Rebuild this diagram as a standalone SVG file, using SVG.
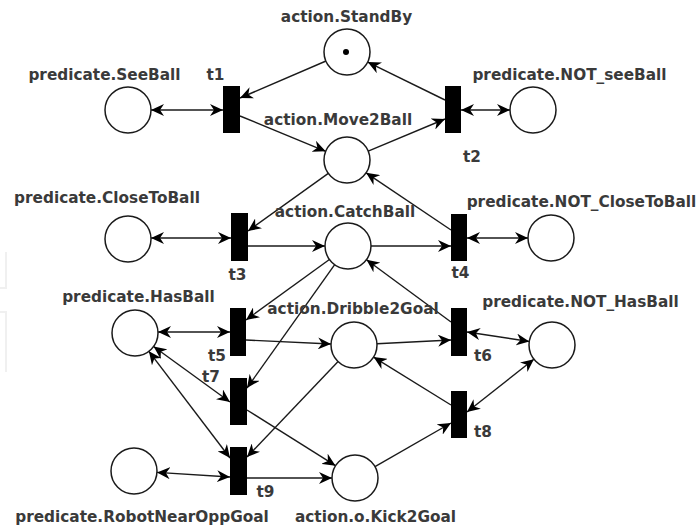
<svg xmlns="http://www.w3.org/2000/svg" width="698" height="526" viewBox="0 0 698 526">
  <style>
    .place { fill: #ffffff; stroke: #1a1a1a; stroke-width: 1.5; }
    .trans { fill: #000000; }
    .arc { fill: none; stroke: #1a1a1a; stroke-width: 1.4; marker-end: url(#head); }
    .arc.both { marker-start: url(#head); }
    .lbl { font-family: "DejaVu Sans", "Liberation Sans", sans-serif; font-weight: bold; font-size: 15.3px; fill: #3a3a3a; text-anchor: middle; }
    .edge { fill: none; stroke: #f0f0f0; stroke-width: 2; }
  </style>
  <defs>
    <marker id="head" viewBox="0 0 13 12" markerWidth="13" markerHeight="12" refX="13" refY="6" orient="auto-start-reverse" markerUnits="userSpaceOnUse">
      <path d="M0,0 L13,6 L0,12 L4,6 z" fill="#000000"/>
    </marker>
  </defs>

  <rect width="698" height="526" fill="#ffffff"/>
  <!-- faint frame remnants along the left border -->
  <path class="edge" d="M0,288 H6 V252"/>
  <path class="edge" d="M0,312 H6 V372"/>

  <!-- connectors -->
  <g id="arcs">
    <line class="arc both" x1="151" y1="110" x2="223" y2="110"/>
    <line class="arc" x1="326" y1="61" x2="240" y2="98"/>
    <line class="arc" x1="240" y1="116" x2="325.7" y2="151.3"/>
    <line class="arc" x1="368.2" y1="151.1" x2="445" y2="119"/>
    <line class="arc" x1="445" y1="100" x2="367.7" y2="62.1"/>
    <line class="arc both" x1="461" y1="110" x2="510" y2="110"/>
    <line class="arc" x1="328.3" y1="173.4" x2="248" y2="231"/>
    <line class="arc both" x1="151" y1="238" x2="231" y2="238"/>
    <line class="arc" x1="248" y1="246" x2="325" y2="246"/>
    <line class="arc" x1="371" y1="246" x2="451" y2="246"/>
    <line class="arc" x1="451" y1="230" x2="366.1" y2="172.8"/>
    <line class="arc both" x1="467" y1="238" x2="528" y2="238"/>
    <line class="arc" x1="329.4" y1="259.5" x2="246" y2="320"/>
    <line class="arc" x1="334.7" y1="264.7" x2="247" y2="388"/>
    <line class="arc both" x1="158" y1="332" x2="230" y2="332"/>
    <line class="arc" x1="246" y1="340" x2="331" y2="344"/>
    <line class="arc" x1="377" y1="343.8" x2="451" y2="340"/>
    <line class="arc both" x1="467" y1="332" x2="529.3" y2="341.5"/>
    <line class="arc" x1="451" y1="322" x2="366.5" y2="259.7"/>
    <line class="arc both" x1="153.6" y1="346.5" x2="230" y2="402"/>
    <line class="arc both" x1="148.9" y1="351.3" x2="230" y2="458"/>
    <line class="arc" x1="247" y1="410" x2="335.5" y2="465.7"/>
    <line class="arc" x1="338.1" y1="361.6" x2="247" y2="457"/>
    <line class="arc both" x1="157" y1="472.4" x2="230" y2="477"/>
    <line class="arc" x1="247" y1="478" x2="332" y2="478"/>
    <line class="arc" x1="375" y1="466.6" x2="451" y2="423"/>
    <line class="arc" x1="451" y1="405" x2="373.6" y2="357.1"/>
    <line class="arc both" x1="467" y1="412" x2="533.9" y2="359.2"/>
  </g>

  <!-- places -->
  <g id="standby">
    <circle class="place" cx="347" cy="52" r="23"/>
    <circle cx="346" cy="52" r="3" fill="#000000"/>
    <text class="lbl" x="346.5" y="22">action.StandBy</text>
  </g>
  <g id="see-ball">
    <circle class="place" cx="128" cy="110" r="23"/>
    <text class="lbl" x="104.5" y="80">predicate.SeeBall</text>
  </g>
  <g id="not-see-ball">
    <circle class="place" cx="533" cy="110" r="23"/>
    <text class="lbl" x="569.5" y="80">predicate.NOT_seeBall</text>
  </g>
  <g id="move2ball">
    <circle class="place" cx="347" cy="160" r="23"/>
    <text class="lbl" x="338" y="125">action.Move2Ball</text>
  </g>
  <g id="close-to-ball">
    <circle class="place" cx="128" cy="239" r="23"/>
    <text class="lbl" x="107" y="203">predicate.CloseToBall</text>
  </g>
  <g id="catch-ball">
    <circle class="place" cx="348" cy="246" r="23"/>
    <text class="lbl" x="345" y="217">action.CatchBall</text>
  </g>
  <g id="not-close-to-ball">
    <circle class="place" cx="551" cy="238" r="23"/>
    <text class="lbl" x="581.5" y="207">predicate.NOT_CloseToBall</text>
  </g>
  <g id="has-ball">
    <circle class="place" cx="135" cy="333" r="23"/>
    <text class="lbl" x="138.5" y="302">predicate.HasBall</text>
  </g>
  <g id="dribble2goal">
    <circle class="place" cx="354" cy="345" r="23"/>
    <text class="lbl" x="353" y="314">action.Dribble2Goal</text>
  </g>
  <g id="not-has-ball">
    <circle class="place" cx="552" cy="345" r="23"/>
    <text class="lbl" x="580.5" y="307">predicate.NOT_HasBall</text>
  </g>
  <g id="robot-near-opp-goal">
    <circle class="place" cx="134" cy="471" r="23"/>
    <text class="lbl" x="142" y="522">predicate.RobotNearOppGoal</text>
  </g>
  <g id="kick2goal">
    <circle class="place" cx="355" cy="478" r="23"/>
    <text class="lbl" x="375.5" y="522">action.o.Kick2Goal</text>
  </g>

  <!-- transitions -->
  <g id="t1"><rect class="trans" x="223" y="86" width="17" height="47"/><text class="lbl" x="215.5" y="80">t1</text></g>
  <g id="t2"><rect class="trans" x="445" y="86" width="16" height="47"/><text class="lbl" x="472" y="162">t2</text></g>
  <g id="t3"><rect class="trans" x="231" y="213" width="17" height="48"/><text class="lbl" x="237.5" y="280">t3</text></g>
  <g id="t4"><rect class="trans" x="451" y="214" width="16" height="47"/><text class="lbl" x="460.5" y="278">t4</text></g>
  <g id="t5"><rect class="trans" x="230" y="308" width="16" height="48"/><text class="lbl" x="217" y="361">t5</text></g>
  <g id="t6"><rect class="trans" x="451" y="308" width="16" height="48"/><text class="lbl" x="483" y="361">t6</text></g>
  <g id="t7"><rect class="trans" x="230" y="378" width="17" height="47"/><text class="lbl" x="211" y="382">t7</text></g>
  <g id="t8"><rect class="trans" x="451" y="391" width="16" height="47"/><text class="lbl" x="483" y="437">t8</text></g>
  <g id="t9"><rect class="trans" x="230" y="447" width="17" height="48"/><text class="lbl" x="265.5" y="497">t9</text></g>
</svg>
